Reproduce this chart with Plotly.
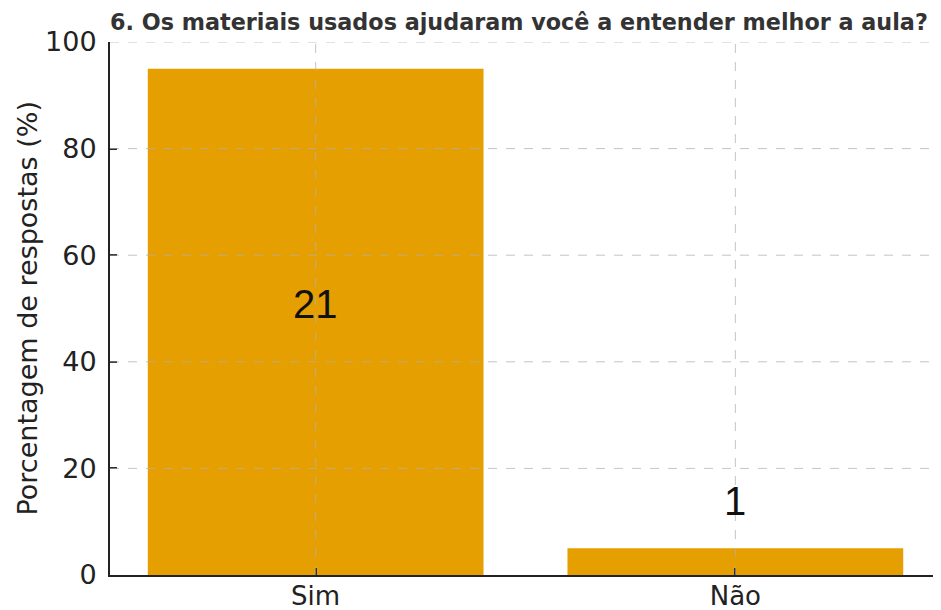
import plotly.graph_objects as go

categories = ["Sim", "Não"]
percentages = [95.0, 5.0]
counts = ["21", "1"]
label_y = [46.3, 9.4]
y_ticks = [0, 20, 40, 60, 80, 100]

title = "6. Os materiais usados ajudaram você a entender melhor a aula?"
y_title = "Porcentagem de respostas (%)"

bar_color = "#E69F00"
grid_color = "rgba(176,176,176,0.75)"
text_color = "#222222"

fig = go.Figure()
fig.add_trace(go.Bar(
    x=categories, y=percentages, width=0.8,
    marker=dict(color=bar_color, line=dict(width=0)),
    hoverinfo="x+y",
))

# count labels
for c, ly, t in zip(categories, label_y, counts):
    fig.add_annotation(x=c, y=ly, text=t, showarrow=False, yanchor="bottom",
                       font=dict(family="Liberation Sans, Arial", size=40, color="#111111"))

# y axis title
fig.add_annotation(xref="paper", x=0, xshift=-83, xanchor="center",
                   yref="paper", y=0.5, yanchor="middle", textangle=-90,
                   text=y_title, showarrow=False,
                   font=dict(family="DejaVu Sans", size=27, color=text_color))

# dashed grid drawn above bars (as in reference)
for v in y_ticks[1:]:
    fig.add_shape(type="line", xref="paper", x0=0, x1=1, yref="y", y0=v, y1=v,
                  line=dict(color=grid_color, width=1, dash="dash"), layer="above")
for c in categories:
    fig.add_shape(type="line", xref="x", x0=c, x1=c, yref="paper", y0=0, y1=1,
                  line=dict(color=grid_color, width=1, dash="dash"), layer="above")

fig.update_layout(
    width=941, height=610,
    margin=dict(l=102, r=8, t=34, b=43, autoexpand=False),
    plot_bgcolor="white", paper_bgcolor="white",
    showlegend=False,
    title=dict(text="<b>" + title + "</b>", x=0, xref="paper", xanchor="left",
               y=1, yref="container", yanchor="top", pad=dict(t=6),
               font=dict(family="DejaVu Sans", size=22.3, color="#333333")),
    font=dict(family="DejaVu Sans", color=text_color),
)
fig.update_xaxes(
    range=[-0.49, 1.49], showgrid=False, automargin=False,
    showline=True, linecolor=text_color, linewidth=2,
    ticks="inside", ticklen=7, tickwidth=1.5, tickcolor=text_color,
    ticklabelstandoff=-3,
    tickfont=dict(size=26, family="DejaVu Sans", color=text_color),
)
fig.update_yaxes(
    range=[0, 100], tickvals=y_ticks, showgrid=False, zeroline=False, automargin=False,
    showline=True, linecolor=text_color, linewidth=2,
    ticks="inside", ticklen=7, tickwidth=1.5, tickcolor=text_color,
    ticklabelstandoff=6,
    tickfont=dict(size=27, family="DejaVu Sans", color=text_color),
)

fig.write_html("out.html")
